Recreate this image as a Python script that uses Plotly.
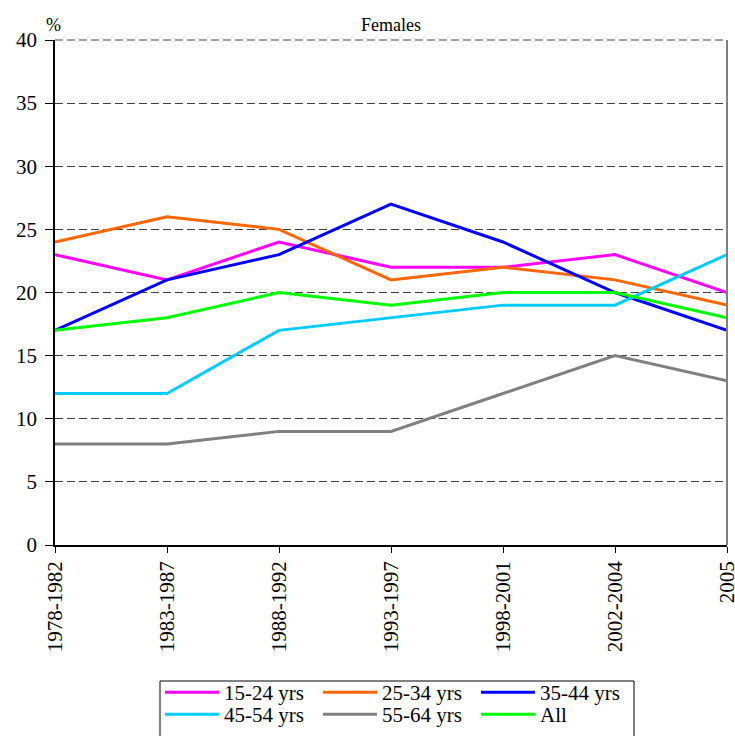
import plotly.graph_objects as go

periods = ["1978-1982", "1983-1987", "1988-1992", "1993-1997", "1998-2001", "2002-2004", "2005"]
series_names = ["15-24 yrs", "25-34 yrs", "35-44 yrs", "45-54 yrs", "55-64 yrs", "All"]
v_15_24 = [23, 21, 24, 22, 22, 23, 20]
v_25_34 = [24, 26, 25, 21, 22, 21, 19]
v_35_44 = [17, 21, 23, 27, 24, 20, 17]
v_45_54 = [12, 12, 17, 18, 19, 19, 23]
v_55_64 = [8, 8, 9, 9, 12, 15, 13]
v_all = [17, 18, 20, 19, 20, 20, 18]
colors = ["#FF00FF", "#FF6600", "#0000FF", "#00CCFF", "#808080", "#00FF00"]
y_ticks = [0, 5, 10, 15, 20, 25, 30, 35, 40]

FONT = "Liberation Serif, Times New Roman, serif"
fig = go.Figure()
all_vals = [v_15_24, v_25_34, v_35_44, v_45_54, v_55_64, v_all]
for i, (name, vals, c) in enumerate(zip(series_names, all_vals, colors)):
    fig.add_trace(go.Scatter(x=list(range(len(periods))), y=vals, name=name, mode="lines",
                             line=dict(color=c, width=3),
                             legend="legend" if i < 3 else "legend2"))

leg_common = dict(orientation="h", xref="container", yref="container", xanchor="left", yanchor="top",
                  borderwidth=0, bgcolor="rgba(0,0,0,0)", itemwidth=54, entrywidth=89,
                  entrywidthmode="pixels", font=dict(family=FONT, size=21, color="black"))

fig.update_layout(
    width=735, height=736,
    margin=dict(l=55, r=8, t=40, b=191),
    paper_bgcolor="white", plot_bgcolor="white",
    font=dict(family=FONT, size=21, color="black"),
    showlegend=True,
    legend=dict(x=160 / 735, y=1 - 672 / 736, **leg_common),
    legend2=dict(x=160 / 735, y=1 - 694 / 736, **leg_common),
    xaxis=dict(range=[0, 6], tickmode="array", tickvals=list(range(len(periods))), ticktext=periods,
               tickangle=-90, showgrid=False, showline=True, linecolor="black", linewidth=1.5,
               ticks="outside", ticklen=6, tickcolor="black", zeroline=False,
               ticklabeloverflow="allow", automargin=False,
               tickfont=dict(family=FONT, size=21, color="black")),
    yaxis=dict(range=[0, 40], tickmode="array", tickvals=y_ticks, showgrid=True, gridcolor="#404040",
               griddash="8px,4px", gridwidth=1, showline=True, linecolor="black", linewidth=1.5,
               ticks="outside", ticklen=8, tickcolor="black", zeroline=False, automargin=False,
               ticklabelstandoff=4,
               tickfont=dict(family=FONT, size=21, color="black")),
    annotations=[
        dict(text="Females", x=0.5, y=1, xref="paper", yref="paper", xanchor="center", yanchor="bottom",
             yshift=3, showarrow=False, font=dict(family=FONT, size=18, color="black")),
        dict(text="%", x=0, y=1, xref="paper", yref="paper", xanchor="center", yanchor="bottom",
             xshift=-2, yshift=3, showarrow=False, font=dict(family=FONT, size=18, color="black")),
    ],
    shapes=[dict(type="line", xref="paper", yref="paper", x0=1, x1=1, y0=0, y1=1,
                 line=dict(color="#808080", width=2)),
            dict(type="line", xref="paper", yref="paper", x0=0, x1=1, y0=1, y1=1,
                 line=dict(color="#404040", width=1, dash="8px,4px")),
            dict(type="rect", xref="paper", yref="paper",
                 x0=(160 - 55) / 672, x1=(634 - 55) / 672, y0=(545 - 681) / 505, y1=(545 - 745) / 505,
                 line=dict(color="black", width=1), fillcolor="rgba(0,0,0,0)")],
)
fig.write_html("out.html",
               post_script="var gd=document.getElementById('{plot_id}');"
                           "if(document.fonts&&document.fonts.ready){document.fonts.ready.then(function(){Plotly.redraw(gd);});}")
